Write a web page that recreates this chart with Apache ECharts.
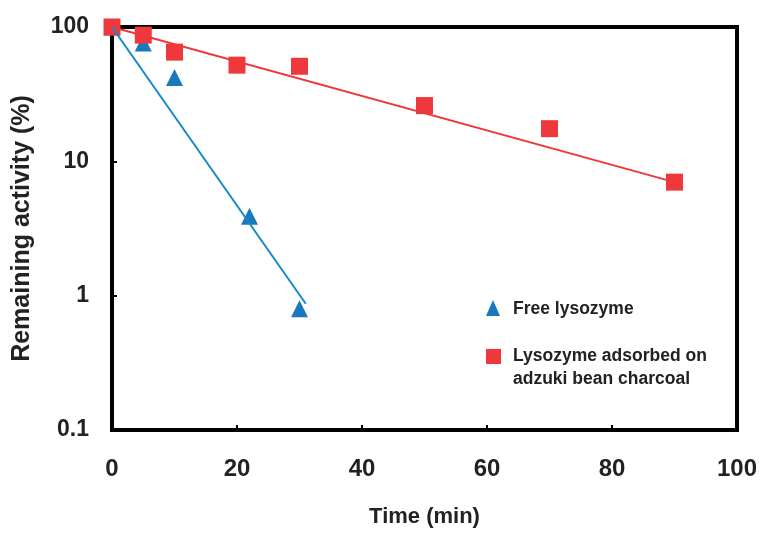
<!DOCTYPE html>
<html>
<head>
<meta charset="utf-8">
<script src="https://cdn.jsdelivr.net/npm/echarts@6/dist/echarts.min.js"></script>
<style>html,body{margin:0;padding:0;background:#fff;}#c{width:761px;height:533px;}</style>
</head>
<body>
<div id="c"></div>
<script>
// Data
const freeTime = [0, 5, 10, 22, 30];
const freeActivity = [100, 76, 42, 3.9, 0.8];
const adsorbedTime = [0, 5, 10, 20, 30, 50, 70, 90];
const adsorbedActivity = [100, 87, 65, 52, 51, 26, 17.5, 7.0];
// Trend lines (end points)
const freeFitTime = [0, 31];
const freeFitActivity = [100, 0.87];
const adsorbedFitTime = [0, 90];
const adsorbedFitActivity = [100, 7.0];
const xTicks = [0, 20, 40, 60, 80, 100];
const yTicks = [0.1, 1, 10, 100];
const legendNames = ['Free lysozyme', 'Lysozyme adsorbed on\nadzuki bean charcoal'];

const zip = (a, b) => a.map((v, i) => [v, b[i]]);
const font = '"Liberation Sans", Arial, sans-serif';
const BLUE = '#1a78bd';
const RED = '#ee383c';

const chart = echarts.init(document.getElementById('c'));
chart.setOption({
  animation: false,
  backgroundColor: '#fff',
  grid: { left: 112, right: 24, top: 27, bottom: 101, show: true, borderColor: '#000', borderWidth: 4, backgroundColor: 'transparent' },
  xAxis: {
    type: 'value', min: xTicks[0], max: xTicks[xTicks.length - 1], interval: 20,
    name: 'Time (min)', nameLocation: 'middle', nameGap: 76,
    nameTextStyle: { fontFamily: font, fontSize: 22, fontWeight: 'bold', color: '#222' },
    axisLine: { show: true, lineStyle: { color: '#000', width: 4 } },
    axisTick: { show: true, inside: true, length: 5, lineStyle: { color: '#000', width: 2 } },
    axisLabel: { fontFamily: font, fontSize: 24, color: '#222', margin: 27, fontWeight: 'bold' },
    splitLine: { show: false }
  },
  yAxis: {
    type: 'log', logBase: 10, min: yTicks[0], max: yTicks[yTicks.length - 1],
    name: 'Remaining activity (%)', nameLocation: 'middle', nameGap: 77,
    nameTextStyle: { fontFamily: font, fontSize: 25, fontWeight: 'bold', color: '#222' },
    axisLine: { show: true, lineStyle: { color: '#000', width: 4 } },
    axisTick: { show: true, inside: true, length: 5, lineStyle: { color: '#000', width: 2 } },
    axisLabel: { fontFamily: font, fontSize: 23, color: '#222', margin: 23, fontWeight: 'bold',
      formatter: v => String(+v.toPrecision(3)) },
    splitLine: { show: false }
  },
  series: [
    { name: legendNames[0], type: 'scatter', data: zip(freeTime, freeActivity), symbol: 'triangle', symbolSize: 17,
      itemStyle: { color: BLUE, opacity: 1 }, clip: false, z: 2 },
    { name: legendNames[1], type: 'scatter', data: zip(adsorbedTime, adsorbedActivity), symbol: 'rect', symbolSize: 17,
      itemStyle: { color: RED, opacity: 1 }, clip: false, z: 3 },
    { type: 'line', data: zip(adsorbedFitTime, adsorbedFitActivity), showSymbol: false, symbol: 'none',
      lineStyle: { color: RED, width: 2 }, z: 4, silent: true },
    { type: 'line', data: zip(freeFitTime, freeFitActivity), showSymbol: false, symbol: 'none',
      lineStyle: { color: '#1a88c4', width: 2 }, z: 5, silent: true }
  ],
  graphic: [
    { type: 'polygon', shape: { points: [[493, 300], [486, 316], [500, 316]] }, style: { fill: BLUE } },
    { type: 'text', left: 513, top: 300, style: { text: legendNames[0], font: 'bold 17.5px ' + font, fill: '#222' } },
    { type: 'rect', shape: { x: 486, y: 349, width: 15, height: 15 }, style: { fill: RED } },
    { type: 'text', left: 513, top: 345, style: { text: legendNames[1], font: 'bold 17.5px ' + font, fill: '#222', lineHeight: 23 } }
  ]
});
</script>
</body>
</html>
